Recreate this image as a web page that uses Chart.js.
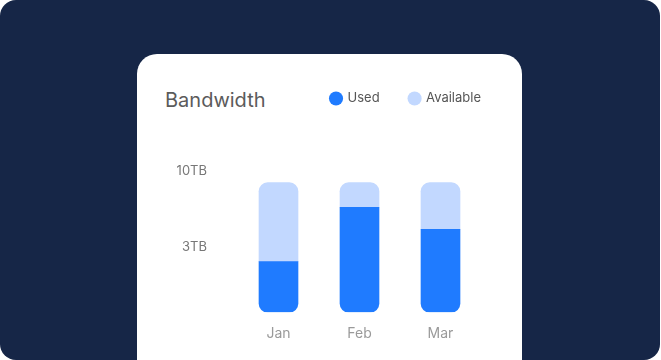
<!DOCTYPE html>
<html>
<head>
<meta charset="utf-8">
<script src="https://cdn.jsdelivr.net/npm/chart.js@4/dist/chart.umd.min.js"></script>
<style>
    html, body { margin: 0; padding: 0; background: #ffffff; }
    .fondo {
        position: relative;
        width: 660px;
        height: 360px;
        background: #162647;
        border-radius: 16px;
        overflow: hidden;
        font-family: Inter, sans-serif;
    }
    .tarjeta {
        position: absolute;
        left: 137px;
        top: 54px;
        width: 385px;
        height: 340px;
        background: #ffffff;
        border-radius: 20px;
    }
    .titulo {
        position: absolute;
        left: 28px;
        top: 33px;
        font-size: 20px;
        color: #5b5b5b;
        line-height: 26px;
    }
    .lienzo {
        position: absolute;
        left: 0;
        top: 0;
        width: 385px;
        height: 306px;
    }
</style>
</head>
<body>
<div class="fondo">
    <div class="tarjeta">
        <div class="titulo">Bandwidth</div>
        <div class="lienzo"><canvas id="bandwidthChart"></canvas></div>
    </div>
</div>
<script>
// Datos del gráfico (TB)
const meses = ['Jan', 'Feb', 'Mar'];
const usado = [3.9, 8.1, 6.4];
const disponible = [6.1, 1.9, 3.6];
const tickValues = [10.9, 5.0];
const tickLabels = ['10TB', '3TB'];

const colorUsado = '#1f7bff';
const colorDisponible = '#c2d8ff';

// Espacio extra bajo la leyenda y ajuste a la derecha
const legendSpacer = {
    id: 'legendSpacer',
    beforeInit(chart) {
        const fitOriginal = chart.legend.fit;
        chart.legend.fit = function () {
            fitOriginal.bind(chart.legend)();
            this.height += 56;
        };
    },
    afterLayout(chart) {
        chart.legend.left += 30;
        chart.legend.right += 30;
    }
};

const ctx = document.getElementById('bandwidthChart').getContext('2d');

new Chart(ctx, {
    type: 'bar',
    data: {
        labels: meses,
        datasets: [{
            label: 'Used',
            data: usado,
            backgroundColor: colorUsado,
            borderSkipped: false,
            borderRadius: { topLeft: 0, topRight: 0, bottomLeft: 9, bottomRight: 9 },
            barThickness: 39
        }, {
            label: 'Available',
            data: disponible,
            backgroundColor: colorDisponible,
            borderSkipped: false,
            borderRadius: { topLeft: 9, topRight: 9, bottomLeft: 0, bottomRight: 0 },
            barThickness: 39
        }]
    },
    options: {
        responsive: true,
        maintainAspectRatio: false,
        animation: false,
        layout: {
            padding: { top: 8, left: 38, right: 41, bottom: 5 }
        },
        plugins: {
            title: { display: false },
            tooltip: { enabled: false },
            legend: {
                position: 'top',
                align: 'end',
                labels: {
                    usePointStyle: true,
                    pointStyle: 'circle',
                    boxWidth: 10,
                    boxHeight: 10,
                    padding: 30,
                    color: '#555555',
                    font: { family: 'Inter', size: 13 }
                }
            }
        },
        scales: {
            x: {
                stacked: true,
                grid: { display: false, drawTicks: false },
                border: { display: false },
                ticks: {
                    color: '#9a9a9a',
                    padding: 13,
                    font: { family: 'Inter', size: 14 }
                }
            },
            y: {
                stacked: true,
                min: 0,
                max: 10.9,
                grid: { display: false, drawTicks: false },
                border: { display: false },
                afterBuildTicks: (scale) => {
                    scale.ticks = tickValues.map(v => ({ value: v }));
                },
                afterFit: (scale) => {
                    scale.width = 63;
                },
                ticks: {
                    color: '#777777',
                    padding: 31,
                    font: { family: 'Inter', size: 13 },
                    callback: (value, index) => tickLabels[index]
                }
            }
        }
    },
    plugins: [legendSpacer]
});
</script>
</body>
</html>
